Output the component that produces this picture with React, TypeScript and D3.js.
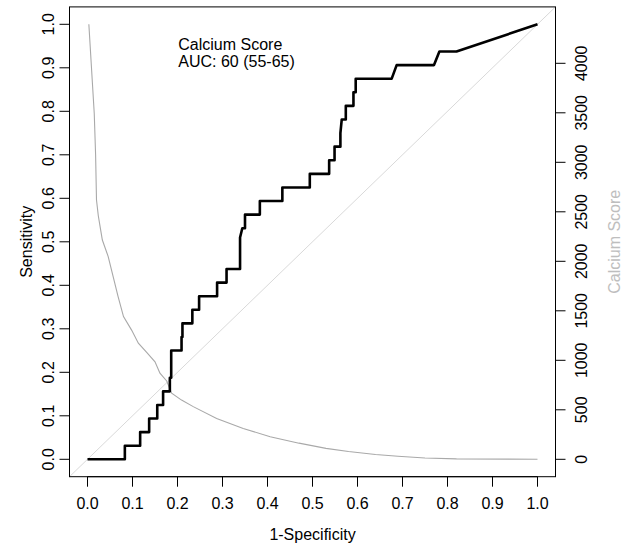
import React from "react";
import * as d3 from "d3";

// ROC curve vertices (1-specificity, sensitivity)
const rocFpr = [
  0, 0.083, 0.083, 0.117, 0.117, 0.137, 0.137, 0.155, 0.155, 0.168, 0.168,
  0.183, 0.183, 0.186, 0.186, 0.209, 0.209, 0.211, 0.211, 0.233, 0.233,
  0.248, 0.248, 0.288, 0.288, 0.309, 0.309, 0.339, 0.339, 0.344, 0.35, 0.35,
  0.383, 0.383, 0.433, 0.433, 0.494, 0.494, 0.537, 0.537, 0.549, 0.549,
  0.562, 0.562, 0.565, 0.574, 0.574, 0.591, 0.591, 0.596, 0.596, 0.676,
  0.687, 0.77, 0.782, 0.82, 1,
];
const rocTpr = [
  0, 0, 0.03125, 0.03125, 0.0625, 0.0625, 0.09375, 0.09375, 0.125, 0.125,
  0.15625, 0.15625, 0.1875, 0.1875, 0.25, 0.25, 0.28125, 0.28125, 0.3125,
  0.3125, 0.34375, 0.34375, 0.375, 0.375, 0.40625, 0.40625, 0.4375, 0.4375,
  0.51, 0.53125, 0.53125, 0.5625, 0.5625, 0.59375, 0.59375, 0.625, 0.625,
  0.65625, 0.65625, 0.6875, 0.6875, 0.71875, 0.71875, 0.75, 0.78125, 0.78125,
  0.8125, 0.8125, 0.84375, 0.84375, 0.875, 0.875, 0.90625, 0.90625, 0.9375,
  0.9375, 1,
];

// calcium score threshold vs 1-specificity
const scoreFpr = [
  0.003, 0.015, 0.018, 0.02, 0.024, 0.028, 0.033, 0.046, 0.057, 0.068, 0.08,
  0.098, 0.113, 0.133, 0.15, 0.161, 0.176, 0.187, 0.209, 0.235, 0.287, 0.346,
  0.406, 0.47, 0.53, 0.58, 0.64, 0.69, 0.75, 0.82, 1.0,
];
const scoreVal = [
  4394, 3493, 3076, 2619, 2460, 2351, 2215, 2048, 1845, 1643, 1441, 1305, 1173,
  1072, 984, 870, 791, 668, 598, 532, 413, 312, 228, 163, 110, 79, 48, 31, 13,
  4, 0,
];
const scoreMax = 4394;

const xTicks = [0, 0.1, 0.2, 0.3, 0.4, 0.5, 0.6, 0.7, 0.8, 0.9, 1.0];
const yTicks = [0, 0.1, 0.2, 0.3, 0.4, 0.5, 0.6, 0.7, 0.8, 0.9, 1.0];
const rightTicks = [0, 500, 1000, 1500, 2000, 2500, 3000, 3500, 4000];
const legendLines = ["Calcium Score", "AUC: 60 (55-65)"];

const width = 621;
const height = 549;
const font = "'Liberation Sans', Arial, Helvetica, sans-serif";

export default function App() {
  const x = d3.scaleLinear().domain([0, 1]).range([87.5, 537.5]);
  const y = d3.scaleLinear().domain([0, 1]).range([459.3, 24.3]);
  const yRight = d3.scaleLinear().domain([0, scoreMax]).range([459.3, 24.3]);

  const left = x(-0.04);
  const right = x(1.04);
  const top = y(1.04);
  const bottom = y(-0.04);

  const line = d3
    .line<[number, number]>()
    .x((d) => x(d[0]))
    .y((d) => y(d[1]));
  const scoreLine = d3
    .line<[number, number]>()
    .x((d) => x(d[0]))
    .y((d) => yRight(d[1]));

  const rocPts = rocFpr.map((f, i) => [f, rocTpr[i]] as [number, number]);
  const scorePts = scoreFpr.map((f, i) => [f, scoreVal[i]] as [number, number]);

  return (
    <svg
      width={width}
      height={height}
      style={{ position: "absolute", left: 0, top: 0, background: "white" }}
      fontFamily={font}
      fontSize={16}
    >
      <rect x={0} y={0} width={width} height={height} fill="white" />
      {/* diagonal */}
      <line
        x1={x(-0.04)}
        y1={y(-0.04)}
        x2={x(1.04)}
        y2={y(1.04)}
        stroke="#d9d9d9"
        strokeWidth={1}
      />
      {/* calcium score curve */}
      <path d={scoreLine(scorePts) || ""} fill="none" stroke="#a9a9a9" strokeWidth={1.1} />
      {/* ROC curve */}
      <path
        d={line(rocPts) || ""}
        fill="none"
        stroke="black"
        strokeWidth={2.6}
        strokeLinejoin="round"
      />
      {/* box */}
      <rect
        x={left}
        y={top}
        width={right - left}
        height={bottom - top}
        fill="none"
        stroke="black"
        strokeWidth={1}
      />

      {/* bottom axis */}
      <line x1={x(0)} x2={x(1)} y1={bottom} y2={bottom} stroke="black" />
      {xTicks.map((t) => (
        <g key={"x" + t}>
          <line x1={x(t)} x2={x(t)} y1={bottom} y2={bottom + 10} stroke="black" />
          <text x={x(t)} y={509} textAnchor="middle">
            {t.toFixed(1)}
          </text>
        </g>
      ))}

      {/* left axis */}
      <line x1={left} x2={left} y1={y(0)} y2={y(1)} stroke="black" />
      {yTicks.map((t) => (
        <g key={"y" + t}>
          <line x1={left} x2={left - 10} y1={y(t)} y2={y(t)} stroke="black" />
          <text
            transform={`translate(53.5, ${y(t)}) rotate(-90)`}
            textAnchor="middle"
          >
            {t.toFixed(1)}
          </text>
        </g>
      ))}

      {/* right axis */}
      <line x1={right} x2={right} y1={yRight(0)} y2={yRight(4000)} stroke="black" />
      {rightTicks.map((t) => (
        <g key={"r" + t}>
          <line
            x1={right}
            x2={right + 10}
            y1={yRight(t)}
            y2={yRight(t)}
            stroke="black"
          />
          <text
            transform={`translate(586.5, ${yRight(t)}) rotate(-90)`}
            textAnchor="middle"
          >
            {t}
          </text>
        </g>
      ))}

      {/* axis titles */}
      <text x={(left + right) / 2} y={540} textAnchor="middle">
        1-Specificity
      </text>
      <text
        transform={`translate(32, ${(top + bottom) / 2}) rotate(-90)`}
        textAnchor="middle"
      >
        Sensitivity
      </text>
      <text
        transform={`translate(619.5, ${(top + bottom) / 2}) rotate(-90)`}
        textAnchor="middle"
        fill="#bebebe"
      >
        Calcium Score
      </text>

      {/* legend */}
      {legendLines.map((s, i) => (
        <text key={s} x={178.3} y={50 + i * 17}>
          {s}
        </text>
      ))}
    </svg>
  );
}
